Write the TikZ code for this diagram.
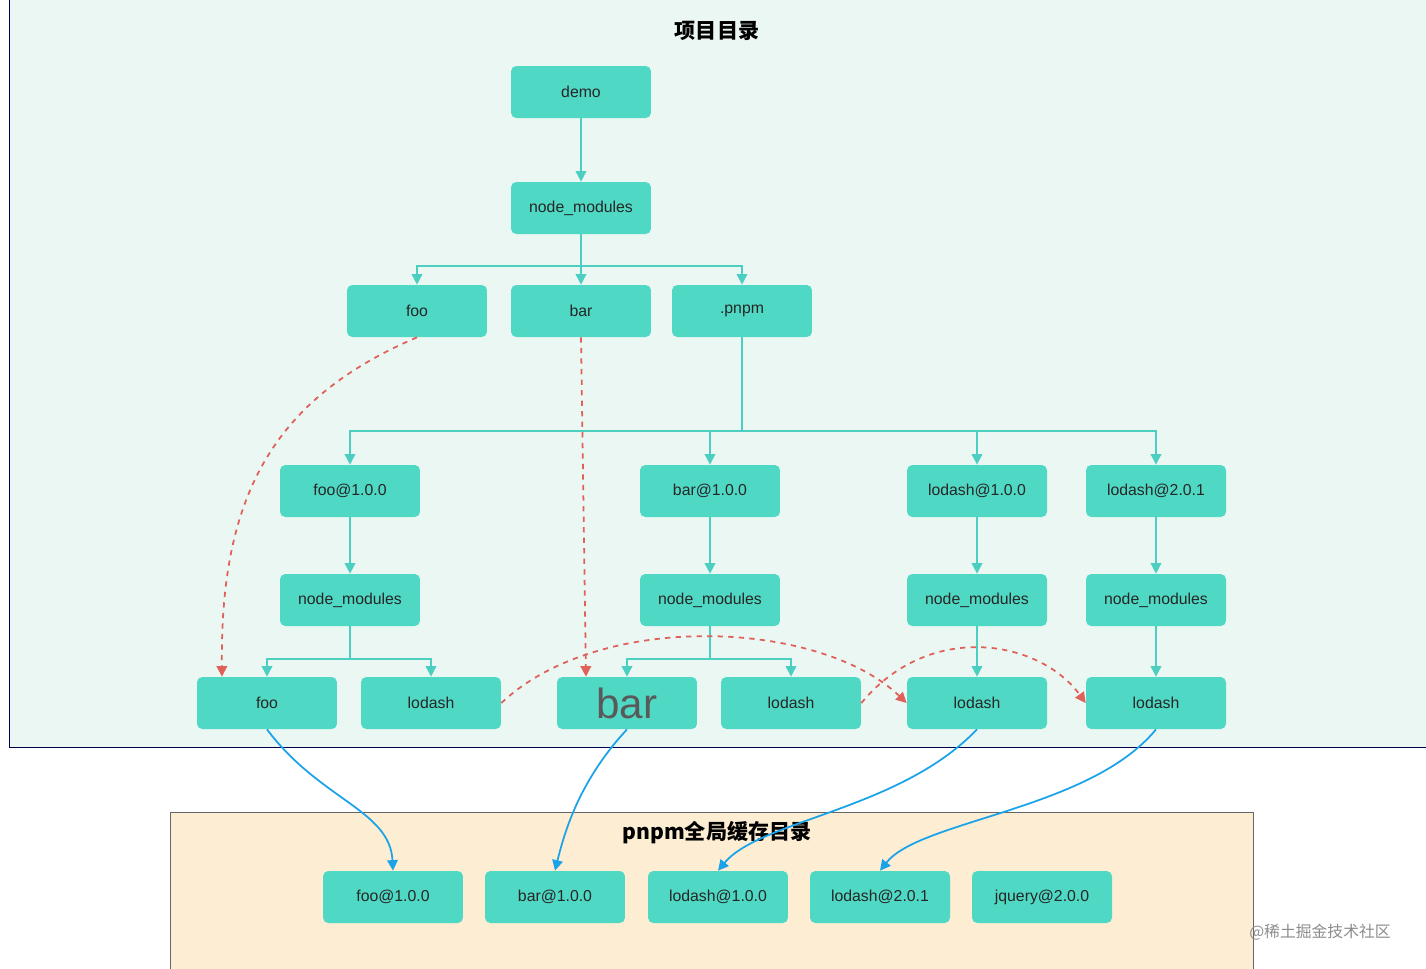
\documentclass[tikz,border=0pt]{standalone}
\usepackage{fontspec}
\setmainfont{Liberation Sans}
\newfontfamily\cjk{Noto Sans CJK SC}
\usetikzlibrary{arrows.meta,positioning,calc}
\definecolor{boxc}{HTML}{4FD9C5}
\definecolor{linec}{HTML}{4CCFC0}
\definecolor{mint}{HTML}{EAF7F3}
\definecolor{cream}{HTML}{FDEDD3}
\definecolor{dashc}{HTML}{E0605A}
\definecolor{bluec}{HTML}{1AA3E8}
\begin{document}
\begin{tikzpicture}[x=0.02cm,y=-0.02cm,
	box/.style={fill=boxc,rounded corners=3pt,minimum width=2.8cm,minimum height=1.04cm,inner sep=0pt,font=\small,text=black!85},
	tree/.style={linec,line width=1pt,-{Triangle[width=6pt,length=6pt]}},
	link/.style={dashc,dashed,line width=1pt,-{Triangle[width=6pt,length=6pt]}},
	store/.style={bluec,line width=1pt,-{Triangle[width=6pt,length=6pt]}}]
\useasboundingbox (0,0) rectangle (1426,968);
% panels
\filldraw[fill=mint,draw=black!70!blue] (9,-2) rectangle (1430,747);
\filldraw[fill=cream,draw=black!60] (170,812) rectangle (1253,972);
\node[font=\cjk\bfseries\large] at (717,31) {项目目录};
\node[font=\cjk\bfseries\large] at (717,833) {pnpm全局缓存目录};
\node[font=\cjk\small,text=black!45] at (1320,932) {@稀土掘金技术社区};

% project tree
\node[box] (demo) at (581,92) {demo};
\node[box] (nm) at (581,208) {node\_modules};
\node[box] (foo) at (417,311) {foo};
\node[box] (bar) at (581,311) {bar};
\node[box] (pnpm) at (742,311) {.pnpm};
\foreach \n/\x/\t in {foov/350/foo@1.0.0, barv/710/bar@1.0.0, lodv/977/lodash@1.0.0, lodw/1156/lodash@2.0.1}{
	\node[box] (\n) at (\x,491) {\t};
	\node[box] (\n nm) at (\x,600) {node\_modules};
	\draw[tree] (\n) -- (\n nm);
}
\node[box] (fooa) at (267,703) {foo};
\node[box] (loda) at (431,703) {lodash};
\node[box,font=\fontsize{24}{24}\selectfont,text=black!65] (barb) at (627,703) {bar};
\node[box] (lodb) at (791,703) {lodash};
\node[box] (lodc) at (977,703) {lodash};
\node[box] (lodd) at (1156,703) {lodash};

\draw[tree] (demo) -- (nm);
\draw[tree] (nm) -- (bar);
\draw[tree] (nm.south) -- ++(0,32) -| (foo);
\draw[tree] (nm.south) -- ++(0,32) -| (pnpm);
\foreach \c in {foov,barv,lodv,lodw}
	\draw[tree] (pnpm.south) |- (\c.north |- 0,431) -- (\c);
\draw[tree] (foovnm.south) -- ++(0,33) -| (fooa);
\draw[tree] (foovnm.south) -- ++(0,33) -| (loda);
\draw[tree] (barvnm.south) -- ++(0,33) -| (barb);
\draw[tree] (barvnm.south) -- ++(0,33) -| (lodb);
\draw[tree] (lodvnm) -- (lodc);
\draw[tree] (lodwnm) -- (lodd);

% symlinks
\draw[link] (foo.south) .. controls (270,400) and (220,500) .. (fooa.north west -| 222,0);
\draw[link] (bar.south) -- (barb.north west -| 586,0);
\draw[link] (loda.east) .. controls (600,610) and (820,620) .. (lodc.west);
\draw[link] (lodb.east) .. controls (930,620) and (1040,640) .. (lodd.west);

% store
\node[box] (foos) at (393,897) {foo@1.0.0};
\node[box] (bars) at (555,897) {bar@1.0.0};
\node[box] (lods) at (718,897) {lodash@1.0.0};
\node[box] (lodt) at (880,897) {lodash@2.0.1};
\node[box] (jqs) at (1042,897) {jquery@2.0.0};
\draw[store] (fooa.south) .. controls (320,800) and (390,810) .. (foos.north);
\draw[store] (barb.south) .. controls (580,780) and (565,830) .. (bars.north);
\draw[store] (lodc.south) .. controls (900,810) and (760,820) .. (lods.north);
\draw[store] (lodd.south) .. controls (1090,810) and (920,820) .. (lodt.north);
\end{tikzpicture}
\end{document}
